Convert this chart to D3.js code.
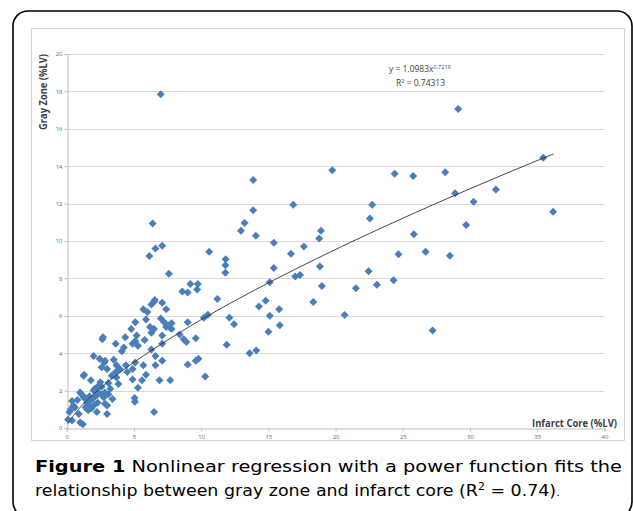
<!DOCTYPE html>
<html>
<head>
<meta charset="utf-8">
<script src="https://cdn.jsdelivr.net/npm/d3@7"></script>
<style>
  html, body { margin: 0; padding: 0; background: #fff; }
  svg { display: block; }
</style>
</head>
<body>
<div id="chart"></div>
<script>
const infarctCore = [
  0.1, 0.4, 0.2, 0.5, 0.3, 0.6, 0.4, 0.9, 1.0, 1.2, 1.25, 1.3, 1.1, 1.25, 1.5, 1.6, 1.4, 1.85, 1.6, 1.8,
  2.05, 2.25, 2.1, 2.35, 1.8, 2.25, 2.5, 2.6, 2.3, 2.75, 2.85, 3.0, 3.0, 3.4, 3.25, 3.1, 3.35, 3.7, 3.85, 3.65,
  2.85, 3.1, 2.35, 2.05, 0.8, 1.0, 1.7, 2.0, 2.6, 1.4,
  2.65, 2.7, 2.0, 2.45, 2.85, 2.6, 2.8, 3.0, 3.5, 4.1, 3.95, 3.7, 4.4, 4.5, 4.9, 5.1, 5.7, 5.9, 5.6, 5.3,
  4.9, 5.05, 5.07, 6.6, 7.1, 6.9, 6.6, 7.7, 6.5, 7.1, 7.1, 6.3, 5.7, 6.0, 6.3, 6.55, 6.5, 7.1, 7.4, 5.1,
  5.9, 6.2, 6.5, 6.3, 7.0, 7.25, 7.4, 7.6, 7.8, 7.7, 7.8, 4.8, 5.2, 5.1, 4.9, 5.3, 5.8, 4.35, 4.25, 3.65,
  8.4, 8.7, 8.9, 9.0, 9.6, 9.0, 9.6, 9.8, 10.2, 10.3, 6.15, 6.6, 7.1, 7.6, 9.0, 8.6, 9.2, 9.75, 9.7, 6.99, 6.39,
  13.87, 19.75, 16.85, 22.72, 22.55, 13.87, 13.23, 12.96, 14.07, 15.41, 16.68, 17.64, 18.78, 18.91, 10.6, 11.82,
  29.12, 35.44, 36.18, 24.39, 25.77, 28.15, 28.89, 31.92, 30.26, 29.71, 25.82, 24.68, 26.69, 28.5,
  18.83, 22.45, 24.31, 18.98, 21.51, 23.07, 18.34, 20.67, 27.21, 17.35,
  11.2, 11.8, 11.8, 12.1, 12.45, 11.9, 13.6, 14.1, 14.3, 15.1, 15.4, 14.8, 15.1, 15.8, 15.0, 15.85, 17.0, 10.5
]
const grayZone = [
  0.45, 0.4, 0.85, 1.2, 1.0, 1.1, 1.45, 0.75, 0.3, 0.2, 2.8, 2.85, 1.8, 1.65, 1.35, 1.2, 1.1, 1.05, 0.95, 1.5,
  1.65, 1.75, 2.1, 2.25, 2.55, 0.85, 2.45, 1.8, 1.35, 1.65, 1.3, 1.2, 0.75, 1.55, 2.1, 2.4, 2.8, 2.7, 2.35, 3.0,
  1.9, 1.8, 1.9, 1.25, 1.5, 1.9, 1.7, 2.0, 2.2, 1.6,
  4.75, 4.85, 3.85, 3.7, 3.6, 3.25, 3.5, 3.15, 3.65, 4.1, 3.15, 3.35, 3.35, 3.0, 3.15, 3.5, 3.35, 2.85, 2.55, 2.15,
  2.6, 1.6, 1.4, 3.85, 3.6, 2.55, 3.35, 2.55, 0.85, 4.5, 4.95, 4.2, 6.35, 6.2, 6.6, 6.85, 6.75, 6.7, 6.35, 5.65,
  5.8, 5.4, 5.3, 5.1, 5.85, 5.65, 5.4, 5.5, 5.6, 5.35, 5.3, 5.3, 4.95, 4.65, 4.5, 4.4, 4.7, 4.85, 4.3, 4.5,
  5.0, 4.75, 4.6, 5.65, 4.8, 3.4, 3.6, 3.7, 5.9, 2.75, 9.2, 9.6, 9.75, 8.25, 7.25, 7.3, 7.7, 7.7, 7.4, 17.85, 10.93,
  13.26, 13.78, 11.94, 11.94, 11.2, 11.64, 10.96, 10.55, 10.28, 9.91, 9.32, 9.7, 10.14, 10.55, 9.43, 9.02,
  17.06, 14.45, 11.57, 13.6, 13.48, 13.67, 12.55, 12.76, 12.1, 10.86, 10.36, 9.29, 9.43, 9.21,
  8.64, 8.38, 7.9, 7.59, 7.47, 7.66, 6.74, 6.04, 5.22, 8.18,
  6.9, 8.7, 8.3, 5.9, 5.55, 4.45, 4.0, 4.15, 6.5, 7.8, 8.55, 6.8, 6.0, 6.35, 5.15, 5.5, 8.1, 6.05
]
const xTicks = [0, 5, 10, 15, 20, 25, 30, 35, 40]
const yTicks = [0, 2, 4, 6, 8, 10, 12, 14, 16, 18, 20]
const fitA = 1.0983, fitB = 0.7219
const fitRange = [0.12, 36.2]

const width = 633, height = 511
const svg = d3.select("#chart").append("svg").attr("width", width).attr("height", height)

// outer rounded frame and inner chart frame
svg.append("rect").attr("x", 13).attr("y", 11).attr("width", 619).attr("height", 506).attr("rx", 15)
  .attr("fill", "none").attr("stroke", "#000").attr("stroke-width", 1.6)
svg.append("rect").attr("x", 31.5).attr("y", 28.5).attr("width", 593).attr("height", 412)
  .attr("fill", "none").attr("stroke", "#d4d4d4").attr("stroke-width", 1)

const x = d3.scaleLinear().domain([0, 40]).range([66.7, 604.5])
const y = d3.scaleLinear().domain([0, 20]).range([428, 54])

const g = svg.append("g")

// gridlines
g.selectAll(".grid").data(yTicks.filter(d => d > 0)).join("line")
  .attr("x1", x(0)).attr("x2", x(40))
  .attr("y1", d => Math.round(y(d)) + 0.5).attr("y2", d => Math.round(y(d)) + 0.5)
  .attr("stroke", "#d9d9d9").attr("stroke-width", 1)

const yAxis = g.append("g").attr("transform", `translate(${Math.round(x(0)) + 0.5},0)`)
  .call(d3.axisLeft(y).tickValues(yTicks).tickSize(3).tickPadding(2))
const xAxis = g.append("g").attr("transform", `translate(0,${Math.round(y(0)) + 0.5})`)
  .call(d3.axisBottom(x).tickValues(xTicks).tickSize(3).tickPadding(3))
for (const ax of [yAxis, xAxis]) {
  ax.select(".domain").attr("stroke", "#bfbfbf")
  ax.selectAll(".tick line").attr("stroke", "#bfbfbf")
  ax.selectAll(".tick text").attr("fill", "#6b6b6b").style("font-family", "Open Sans, sans-serif").style("font-size", "6px")
}

// points
const pts = infarctCore.map((v, i) => ({ x: v, y: grayZone[i] }))
const diamond = d3.symbol(d3.symbolSquare, 32)
g.selectAll(".pt").data(pts).join("path")
  .attr("d", diamond)
  .attr("transform", d => `translate(${x(d.x)},${y(d.y)}) rotate(45)`)
  .attr("fill", "#4a7ebb")

// power trend line from the fitted equation
const fitXs = d3.range(0, 121).map(i => fitRange[0] * Math.pow(fitRange[1] / fitRange[0], i / 120))
g.append("path")
  .attr("d", d3.line().x(d => x(d)).y(d => y(fitA * Math.pow(d, fitB)))(fitXs))
  .attr("fill", "none").attr("stroke", "#333").attr("stroke-width", 0.9)

// equation label
const eq = svg.append("text").attr("x", 389).attr("y", 72)
  .style("font-family", "Open Sans, sans-serif").style("font-size", "8.5px").attr("fill", "#404040")
eq.append("tspan").text("y = 1.0983x")
eq.append("tspan").attr("dy", -3).style("font-size", "5.5px").text("0.7219")
const r2 = svg.append("text").attr("x", 396).attr("y", 86)
  .style("font-family", "Open Sans, sans-serif").style("font-size", "8.5px").attr("fill", "#404040")
r2.append("tspan").text("R")
r2.append("tspan").attr("dy", -3).style("font-size", "5.5px").text("2")
r2.append("tspan").attr("dy", 3).text(" = 0.74313")

// axis titles
svg.append("text").attr("x", 617).attr("y", 427).attr("text-anchor", "end")
  .attr("textLength", 85).attr("lengthAdjust", "spacingAndGlyphs")
  .style("font-family", "Open Sans, sans-serif").style("font-size", "11px").style("font-weight", "bold")
  .attr("fill", "#404040").text("Infarct Core (%LV)")
svg.append("text").attr("transform", "translate(47,92) rotate(-90)").attr("text-anchor", "middle")
  .attr("textLength", 76).attr("lengthAdjust", "spacingAndGlyphs")
  .style("font-family", "Open Sans, sans-serif").style("font-size", "10px").style("font-weight", "bold")
  .attr("fill", "#404040").text("Gray Zone (%LV)")

// caption
const capFont = "DejaVu Sans, sans-serif"
const cap1 = svg.append("text").attr("x", 35).attr("y", 472)
  .attr("textLength", 587).attr("lengthAdjust", "spacingAndGlyphs")
  .style("font-family", capFont).style("font-size", "16px").attr("fill", "#000")
cap1.append("tspan").style("font-weight", "bold").text("Figure 1")
cap1.append("tspan").text(" Nonlinear regression with a power function fits the")
const cap2 = svg.append("text").attr("x", 35).attr("y", 496)
  .attr("textLength", 525).attr("lengthAdjust", "spacingAndGlyphs")
  .style("font-family", capFont).style("font-size", "16px").attr("fill", "#000")
cap2.append("tspan").text("relationship between gray zone and infarct core (R")
cap2.append("tspan").attr("dy", -6).style("font-size", "10px").text("2")
cap2.append("tspan").attr("dy", 6).text(" = 0.74)")
cap2.append("tspan").style("font-size", "11px").text(".")
</script>
</body>
</html>
